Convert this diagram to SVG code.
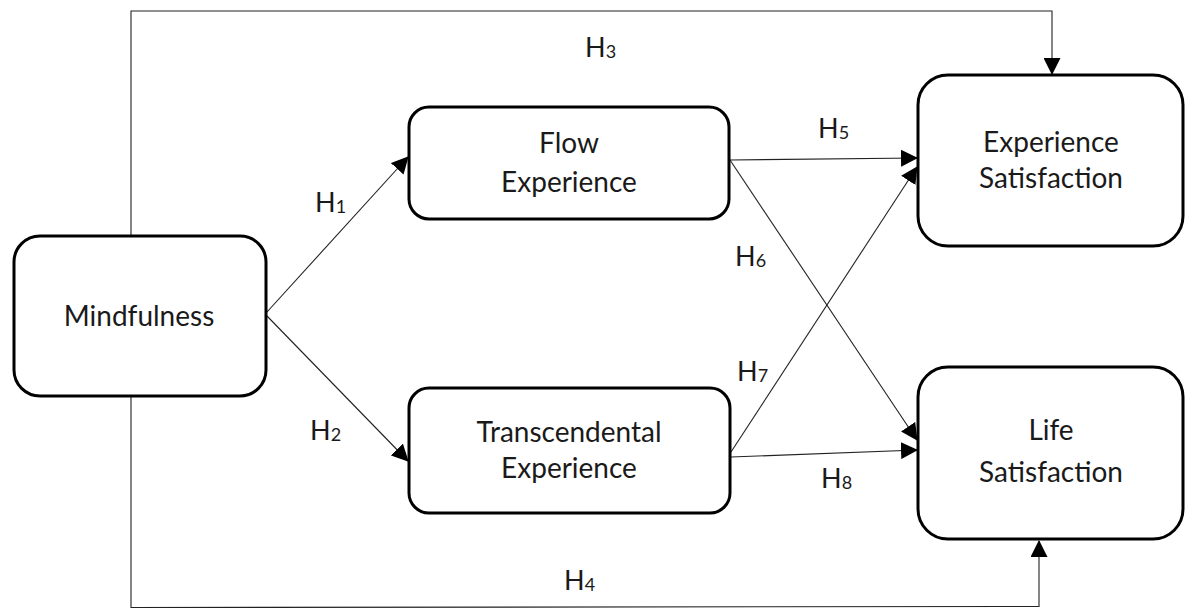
<svg xmlns="http://www.w3.org/2000/svg" width="1185" height="608" viewBox="0 0 1185 608">
<style>
.box{fill:#fff;stroke:#000;stroke-width:3}
.t{font-family:Lato,"Open Sans","Liberation Sans",sans-serif;font-size:28px;fill:#1a1a1a;text-anchor:middle}
.h{font-family:Lato,"Open Sans","Liberation Sans",sans-serif;font-size:27px;fill:#1a1a1a}
.s{font-size:18px}
.c{fill:none;stroke:#222;stroke-width:1.1}
</style>
<defs>
<marker id="ah" markerUnits="userSpaceOnUse" markerWidth="17" markerHeight="17" refX="16" refY="8.5" orient="auto" viewBox="0 0 17 17">
<path d="M0,0 L17,8.5 L0,17 z" fill="#000"/>
</marker>
</defs>
<rect width="1185" height="608" fill="#fff"/>
<g id="connectors">
<path class="c" d="M131,236 V11 H1052 V74" marker-end="url(#ah)"/>
<path class="c" d="M131,396 V607.5 L1039,606.5 V541" marker-end="url(#ah)"/>
<path class="c" d="M267,312 L408,157" marker-end="url(#ah)"/>
<path class="c" d="M267,316 L408,461" marker-end="url(#ah)"/>
<path class="c" d="M730,160 L917,158" marker-end="url(#ah)"/>
<path class="c" d="M730,160 L917,440" marker-end="url(#ah)"/>
<path class="c" d="M731,452 L917,167" marker-end="url(#ah)"/>
<path class="c" d="M731,457 L917,450" marker-end="url(#ah)"/>
</g>
<g id="labels">
<text class="h" x="585" y="57">H<tspan class="s" dy="1">3</tspan></text>
<text class="h" x="315" y="212">H<tspan class="s" dy="1">1</tspan></text>
<text class="h" x="310" y="440">H<tspan class="s" dy="1">2</tspan></text>
<text class="h" x="818" y="138">H<tspan class="s" dy="1">5</tspan></text>
<text class="h" x="735" y="266">H<tspan class="s" dy="1">6</tspan></text>
<text class="h" x="737" y="381">H<tspan class="s" dy="1">7</tspan></text>
<text class="h" x="821" y="488">H<tspan class="s" dy="1">8</tspan></text>
<text class="h" x="564" y="590">H<tspan class="s" dy="1">4</tspan></text>
</g>
<g id="mindfulness">
<rect class="box" x="14" y="236" width="252" height="160" rx="26"/>
<text class="t" x="139" y="326">Mindfulness</text>
</g>
<g id="flow">
<rect class="box" x="409" y="107" width="320" height="112" rx="20"/>
<text class="t" x="569" y="153">Flow</text>
<text class="t" x="569" y="192">Experience</text>
</g>
<g id="transcendental">
<rect class="box" x="409" y="388" width="321" height="125" rx="20"/>
<text class="t" x="569" y="442">Transcendental</text>
<text class="t" x="569" y="478">Experience</text>
</g>
<g id="experience-satisfaction">
<rect class="box" x="918" y="75" width="265" height="171" rx="30"/>
<text class="t" x="1051" y="152">Experience</text>
<text class="t" x="1051" y="188">Satisfaction</text>
</g>
<g id="life-satisfaction">
<rect class="box" x="918" y="367" width="265" height="172" rx="30"/>
<text class="t" x="1051" y="440">Life</text>
<text class="t" x="1051" y="482">Satisfaction</text>
</g>
</svg>
